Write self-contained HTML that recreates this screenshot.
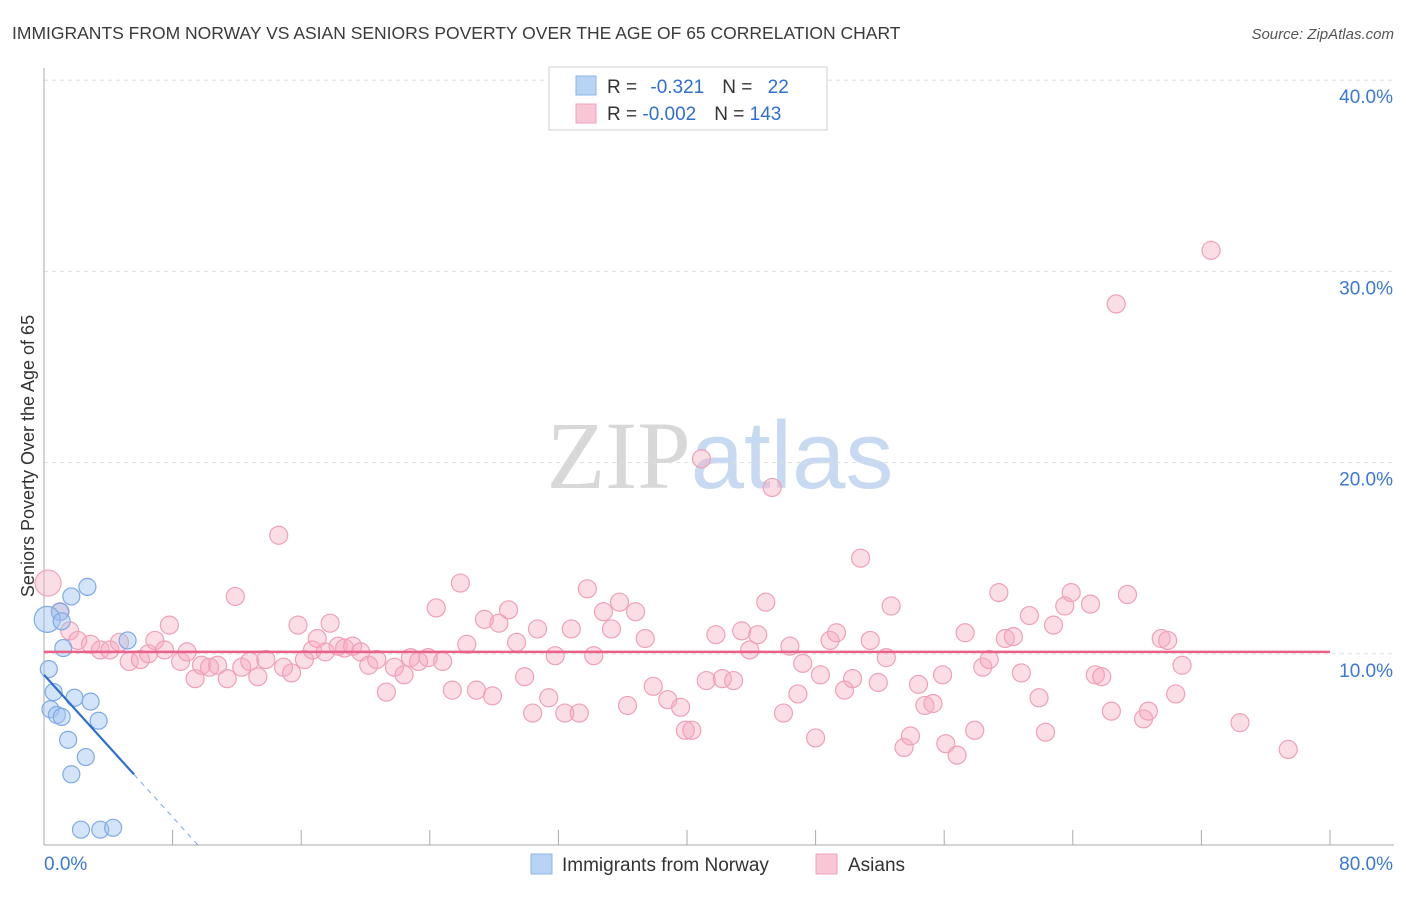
<!DOCTYPE html>
<html><head><meta charset="utf-8"><style>
body{margin:0;background:#fff;font-family:"Liberation Sans",sans-serif;}
svg text{font-family:"Liberation Sans",sans-serif;}
</style></head><body>
<svg id="chart" width="1406" height="892" xmlns="http://www.w3.org/2000/svg">
<text x="12" y="39" font-size="17.5" fill="#3a3a3a">IMMIGRANTS FROM NORWAY VS ASIAN SENIORS POVERTY OVER THE AGE OF 65 CORRELATION CHART</text>
<text x="1394" y="39" font-size="15" fill="#555" font-style="italic" text-anchor="end">Source: ZipAtlas.com</text>
<text x="720" y="488" font-size="96" text-anchor="middle"><tspan fill="#d8d8d8" font-family="Liberation Serif">ZIP</tspan><tspan fill="#c8daf2">atlas</tspan></text>
<text transform="translate(34,456) rotate(-90)" font-size="18" fill="#333" text-anchor="middle">Seniors Poverty Over the Age of 65</text>
<g id="grid"></g><g id="axes"></g><g id="pts"></g><g id="lines"></g>
<g>
<rect x="549" y="67" width="278" height="63" fill="#fff" stroke="#d0d0d0"/>
<rect x="576" y="76" width="20" height="19" fill="#b9d3f5" stroke="#8ab4ec"/>
<rect x="576" y="104" width="20" height="19" fill="#f8c6d4" stroke="#f0a0b8"/>
<text x="607" y="93" font-size="19" fill="#333">R = <tspan fill="#2f6fd0" dx="8">-0.321</tspan><tspan fill="#333" dx="18">N = </tspan><tspan fill="#2f6fd0" dx="10">22</tspan></text>
<text x="607" y="120" font-size="19" fill="#333">R = <tspan fill="#2f6fd0">-0.002</tspan><tspan fill="#333" dx="18">N = </tspan><tspan fill="#2f6fd0">143</tspan></text>
</g>
<g>
<rect x="531" y="854" width="21" height="20" fill="#b9d3f5" stroke="#8ab4ec"/>
<text x="562" y="871" font-size="19" fill="#333">Immigrants from Norway</text>
<rect x="816" y="854" width="21" height="20" fill="#f8c6d4" stroke="#f0a0b8"/>
<text x="848" y="871" font-size="19" fill="#333">Asians</text>
</g>
</svg>
<script>
const xTicks=[0,8,16,24,32,40,48,56,64,72,80];
const yTicks=[10,20,30,40];
const yTickLabels=["10.0%","20.0%","30.0%","40.0%"];
const norwayX=[2.7,1.7,1.0,0.2,1.1,1.2,5.2,0.3,0.6,0.4,0.8,1.1,1.9,2.9,3.4,1.5,2.6,1.7,2.3,3.5,4.3];
const norwayY=[13.5,13.0,12.2,11.8,11.7,10.3,10.7,9.2,8.0,7.1,6.8,6.7,7.7,7.5,6.5,5.5,4.6,3.7,0.8,0.8,0.9];
const asiansX=[0.25,1.0,1.6,2.1,2.9,3.5,4.1,4.7,5.3,6.0,6.5,6.9,7.5,7.8,8.5,8.9,9.4,9.8,10.3,10.8,11.4,11.9,12.3,12.8,13.3,13.8,14.6,14.9,15.4,15.8,16.2,16.7,17.0,17.5,17.8,18.3,18.7,19.2,19.7,20.2,20.7,21.3,21.8,22.4,22.8,23.3,23.9,24.4,24.8,25.4,25.9,26.3,26.9,27.4,27.9,28.3,28.9,29.4,29.9,30.4,30.7,31.4,31.8,32.4,32.8,33.3,33.8,34.2,34.8,35.3,35.8,36.3,36.8,37.4,37.9,38.8,39.6,39.9,40.3,40.9,41.2,41.8,42.2,42.9,43.4,43.9,44.4,44.9,45.3,46.0,46.4,46.9,47.2,48.0,48.3,48.9,49.3,49.8,50.3,50.8,51.4,51.9,52.4,52.7,53.5,53.9,54.4,54.8,55.3,55.9,56.1,56.8,57.3,57.9,58.4,58.8,59.4,59.8,60.3,60.8,61.3,61.9,62.3,62.8,63.5,63.9,65.1,65.4,65.8,66.4,67.4,68.4,68.7,69.5,69.9,70.4,70.8,72.6,66.7,74.4,77.4];
const asiansY=[13.7,12.2,11.2,10.7,10.5,10.2,10.2,10.6,9.6,9.7,10.0,10.7,10.2,11.5,9.6,10.1,8.7,9.4,9.3,9.4,8.7,13.0,9.3,9.6,8.8,9.7,16.2,9.3,9.0,11.5,9.7,10.2,10.8,10.1,11.6,10.4,10.3,10.4,10.1,9.4,9.7,8.0,9.3,8.9,9.8,9.6,9.8,12.4,9.6,8.1,13.7,10.5,8.1,11.8,7.8,11.6,12.3,10.6,8.8,6.9,11.3,7.7,9.9,6.9,11.3,6.9,13.4,9.9,12.2,11.3,12.7,7.3,12.2,10.8,8.3,7.6,7.2,6.0,6.0,20.2,8.6,11.0,8.7,8.6,11.2,10.2,11.0,12.7,18.7,6.9,10.4,7.9,9.5,5.6,8.9,10.7,11.1,8.1,8.7,15.0,10.7,8.5,9.8,12.5,5.1,5.7,8.4,7.3,7.4,8.9,5.3,4.7,11.1,6.0,9.3,9.7,13.2,10.8,10.9,9.0,12.0,7.7,5.9,11.5,12.5,13.2,12.6,8.9,8.8,7.0,13.1,6.6,7.0,10.8,10.7,7.9,9.4,31.1,28.3,6.4,5.0];
const norwayFit=[8.9,-0.93]; // intercept, slope (solid to 5.6, dashed after)
const asiansFit=[10.1,0];
const X=v=>44+v/80*1286, Y=v=>845-v/10*191.2;
const NS="http://www.w3.org/2000/svg";
function mk(p,t,a){const e=document.createElementNS(NS,t);for(const k in a)e.setAttribute(k,a[k]);p.appendChild(e);return e;}
const grid=document.getElementById('grid'),axes=document.getElementById('axes'),pts=document.getElementById('pts'),lines=document.getElementById('lines');
yTicks.forEach((t,i)=>{
 const g=mk(grid,'line',{x1:44,x2:1394,y1:Y(t),y2:Y(t),stroke:'#dedede','stroke-dasharray':'4,4'});
 
 
 const l=mk(axes,'text',{x:1393,y:Y(t)+23,'font-size':19,fill:'#3b78d8','text-anchor':'end'});l.textContent=yTickLabels[i];
 
 
});
const ax=mk(axes,'line',{x1:44,x2:44,y1:68,y2:845,stroke:'#aaa'});


const bx=mk(axes,'line',{x1:44,x2:1394,y1:845,y2:845,stroke:'#aaa'});


xTicks.forEach(t=>{const k=mk(axes,'line',{x1:X(t),x2:X(t),y1:830,y2:845,stroke:'#aaa'});
 
 });
[[0,'0.0%','start',44],[80,'80.0%','end',1393]].forEach(([v,s,a,px])=>{const l=mk(axes,'text',{x:px,y:870,'font-size':19,fill:'#3b78d8','text-anchor':a});l.textContent=s;
 
 });
asiansX.forEach((v,i)=>{const c=mk(pts,'circle',{cx:X(v),cy:Y(asiansY[i]),r:i==0?13:9,fill:'rgba(245,170,192,0.4)',stroke:'#f0a0b8','stroke-width':1.2});
 
 });
norwayX.forEach((v,i)=>{const c=mk(pts,'circle',{cx:X(v),cy:Y(norwayY[i]),r:i==3?13:8.5,fill:'rgba(160,196,240,0.45)',stroke:'#7eaae6','stroke-width':1.2});
 
 });
const pl=mk(lines,'line',{x1:X(0),x2:X(80),y1:Y(asiansFit[0]),y2:Y(asiansFit[0]+asiansFit[1]*80),stroke:'#e8628a','stroke-width':2.5});


const xe=5.6, x0=-norwayFit[0]/norwayFit[1];
const bl=mk(lines,'line',{x1:X(0),x2:X(xe),y1:Y(norwayFit[0]),y2:Y(norwayFit[0]+norwayFit[1]*xe),stroke:'#2f6fd0','stroke-width':2.2});


const bd=mk(lines,'line',{x1:X(xe),x2:X(x0),y1:Y(norwayFit[0]+norwayFit[1]*xe),y2:Y(0),stroke:'#7aa6e0','stroke-width':1,'stroke-dasharray':'5,5'});


</script>
</body></html>
